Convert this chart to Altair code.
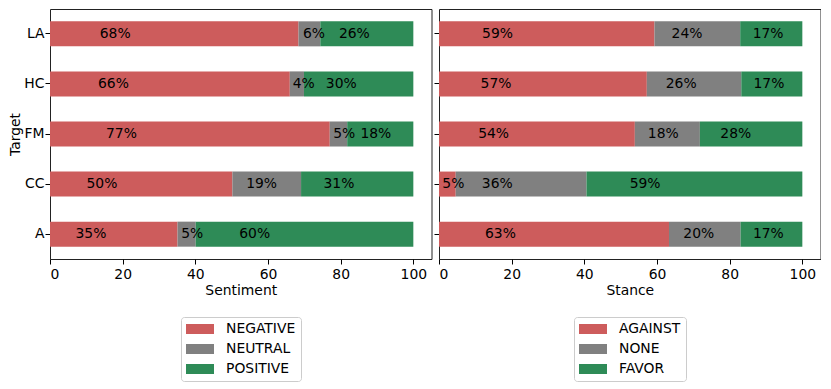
import altair as alt
import pandas as pd

targets = ["LA", "HC", "FM", "CC", "A"]
sentiment_classes = ["NEGATIVE", "NEUTRAL", "POSITIVE"]
stance_classes = ["AGAINST", "NONE", "FAVOR"]

sent_negative = [68.4, 66.0, 77.0, 50.2, 35.1]
sent_neutral = [6.0, 3.9, 4.8, 18.9, 5.0]
sent_positive = [25.6, 30.1, 18.2, 30.9, 59.9]

stance_against = [59.3, 57.2, 53.9, 4.6, 63.3]
stance_none = [23.6, 26.0, 17.9, 36.0, 19.7]
stance_favor = [17.1, 16.8, 28.2, 59.4, 17.0]

colors = ["#CD5C5C", "#808080", "#2E8B57"]
FONT = "DejaVu Sans"
FS = 13.9


def long_df(classes, series):
    rows = []
    for ci, (cls, vals) in enumerate(zip(classes, series)):
        for t, v in zip(targets, vals):
            rows.append({"target": t, "cls": cls, "idx": ci, "value": v})
    return pd.DataFrame(rows)


def panel(df, classes, xtitle, show_y, legend_x):
    base = alt.Chart(df).transform_stack(
        stack="value", groupby=["target"], as_=["x0", "x1"],
        sort=[alt.SortField("idx", order="ascending")],
    )
    yscale = alt.Scale(domain=targets, paddingInner=0.5, paddingOuter=0.246)
    yaxis = alt.Axis(
        title="Target" if show_y else None,
        labels=show_y,
        labelPadding=1,
        titlePadding=1,
    )
    xscale = alt.Scale(domain=[0, 105], nice=False)
    xaxis = alt.Axis(values=[0, 20, 40, 60, 80, 100], title=xtitle,
                     labelPadding=3, titlePadding=3)
    bars = base.mark_bar().encode(
        x=alt.X("x0:Q", scale=xscale, axis=xaxis),
        x2="x1:Q",
        y=alt.Y("target:N", scale=yscale, axis=yaxis),
        color=alt.Color(
            "cls:N",
            scale=alt.Scale(domain=classes, range=colors),
            legend=alt.Legend(
                title=None, orient="none", legendX=legend_x, legendY=308,
                symbolType="M-1,-0.714L3,-0.714L3,0.714L-1,0.714Z",
                symbolSize=196, symbolStrokeWidth=0, symbolOpacity=1,
                labelFontSize=FS, labelFont=FONT, labelColor="black",
                labelOffset=26, rowPadding=6, padding=5,
                strokeColor="#cccccc", cornerRadius=3, fillColor="white",
            ),
        ),
    )
    text = base.transform_calculate(
        tx="datum.x0 + 0.2 * datum.value",
        lbl="format(datum.value, '.0f') + '%'",
    ).mark_text(align="left", baseline="middle", fontSize=FS, font=FONT,
                color="black").encode(
        x=alt.X("tx:Q", scale=xscale),
        y=alt.Y("target:N", scale=yscale),
        text="lbl:N",
    )
    return alt.layer(bars, text).properties(width=381.5, height=250)


left = panel(long_df(sentiment_classes, [sent_negative, sent_neutral, sent_positive]),
             sentiment_classes, "Sentiment", True, 131)
right = panel(long_df(stance_classes, [stance_against, stance_none, stance_favor]),
              stance_classes, "Stance", False, 135)

chart = alt.hconcat(left, right, spacing=1).resolve_scale(color="independent").properties(
    padding={"left": 0, "top": 0, "right": 0, "bottom": 0}
).configure_view(stroke="#222222", strokeWidth=1).configure_axis(
    grid=False, domain=False, tickColor="black", tickSize=5,
    labelFontSize=FS, titleFontSize=FS, labelFont=FONT, titleFont=FONT,
    titleFontWeight="normal", labelColor="black", titleColor="black",
)

chart.save("out.html", embed_options={"renderer": "svg", "actions": False})
